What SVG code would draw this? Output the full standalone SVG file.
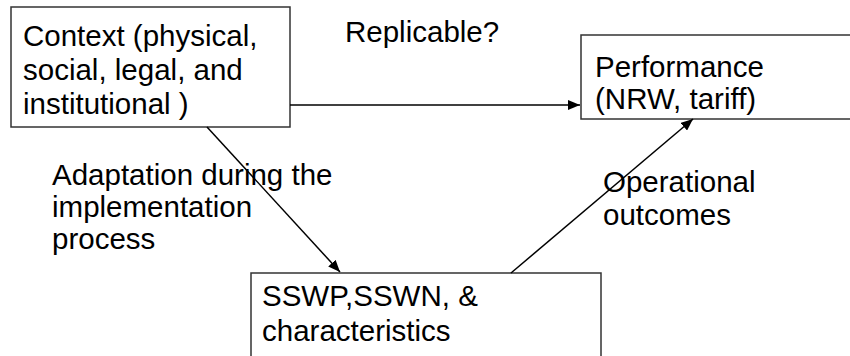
<svg xmlns="http://www.w3.org/2000/svg" width="850" height="356" viewBox="0 0 850 356">
  <defs>
    <marker id="arrow" viewBox="0 0 12 10" refX="12" refY="5" markerWidth="12" markerHeight="10" markerUnits="userSpaceOnUse" orient="auto">
      <path d="M0,0 L12,5 L0,10 z" fill="#000"/>
    </marker>
  </defs>
  <style>
    .box { fill: #fff; stroke: #333; stroke-width: 1.5; }
    .lbl { font-family: "Liberation Sans", Arial, sans-serif; font-size: 29.5px; fill: #000; }
    .edge { stroke: #000; stroke-width: 1.5; fill: none; marker-end: url(#arrow); }
  </style>
  <rect width="850" height="356" fill="#fff"/>

  <g id="context">
    <rect class="box" x="11" y="7" width="279" height="120"/>
    <text class="lbl"><tspan x="23" y="46">Context (physical,</tspan><tspan x="23" y="80">social, legal, and</tspan><tspan x="23" y="114">institutional )</tspan></text>
  </g>

  <g id="performance">
    <rect class="box" x="581" y="35" width="275" height="84"/>
    <text class="lbl"><tspan x="595" y="77">Performance</tspan><tspan x="595" y="109">(NRW, tariff)</tspan></text>
  </g>

  <g id="sswp">
    <rect class="box" x="251" y="273" width="350" height="100"/>
    <text class="lbl"><tspan x="262" y="306">SSWP,SSWN, &amp;</tspan><tspan x="262" y="341">characteristics</tspan></text>
  </g>

  <g id="connectors">
    <line class="edge" x1="290" y1="105" x2="580" y2="105"/>
    <line class="edge" x1="207" y1="127" x2="340" y2="272"/>
    <line class="edge" x1="511" y1="273" x2="693" y2="119"/>
  </g>

  <g id="edge-labels">
    <text class="lbl" x="345" y="42">Replicable?</text>
    <text class="lbl"><tspan x="52" y="185">Adaptation during the</tspan><tspan x="52" y="217">implementation</tspan><tspan x="52" y="249">process</tspan></text>
    <text class="lbl"><tspan x="603" y="192">Operational</tspan><tspan x="603" y="225">outcomes</tspan></text>
  </g>
</svg>
